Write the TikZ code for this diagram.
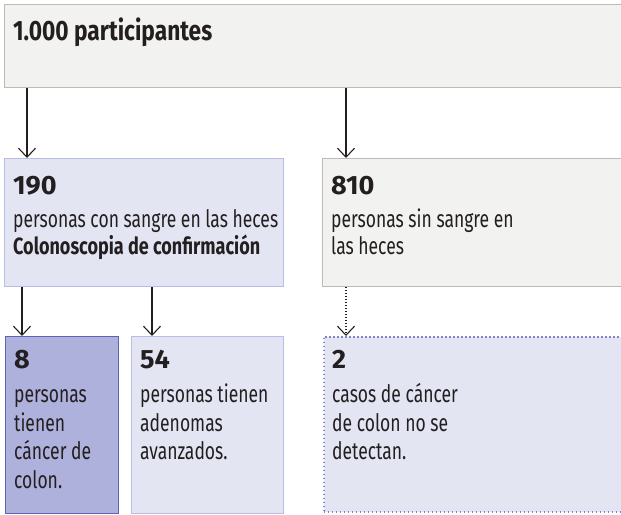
\documentclass[tikz,border=0pt]{standalone}
\usepackage{fontspec}
\setmainfont{Fira Sans}
\usetikzlibrary{arrows.meta}
\definecolor{ink}{HTML}{231F20}
\definecolor{grayfill}{HTML}{F2F2F0}
\definecolor{grayline}{HTML}{BDB9B3}
\definecolor{lavfill}{HTML}{E3E5F3}
\definecolor{lavline}{HTML}{B8BDE7}
\definecolor{darkfill}{HTML}{ADB1DB}
\definecolor{darkline}{HTML}{5A63B5}
\definecolor{dotline}{HTML}{7C83CB}
\newlength\mywd
\tikzset{
  box/.style={rectangle, draw, line width=1pt, inner sep=0pt, anchor=north west},
  graybox/.style={box, fill=grayfill, draw=grayline},
  lavbox/.style={box, fill=lavfill, draw=lavline},
  darkbox/.style={box, fill=darkfill, draw=darkline},
  dotbox/.style={box, fill=lavfill, draw=dotline, line width=1.6pt, dash pattern=on 1.6pt off 2.4pt},
  txt/.style={anchor=base west, inner sep=0pt, text=ink},
  arr/.style={draw=ink, line width=1.1pt, -{Straight Barb[length=9pt,width=17pt,line width=1.1pt]}},
  dotarr/.style={arr, dash pattern=on 1.3pt off 1.7pt},
}
\newcommand\regf{\fontsize{24}{28}\selectfont}
\newcommand\boldf{\fontsize{23.5}{28}\bfseries\selectfont}
\newcommand\numf{\fontsize{26.5}{28}\bfseries\selectfont}
\newcommand\titf{\fontsize{28}{32}\bfseries\selectfont}
\begin{document}
\settowidth\mywd{\regf personas con sangre en las heces}
\pgfmathsetmacro\sxreg{265/\the\mywd}
\settowidth\mywd{\boldf Colonoscopia de confirmación}
\pgfmathsetmacro\sxbold{247/\the\mywd}
\settowidth\mywd{\numf 190}
\pgfmathsetmacro\sxnum{43.5/\the\mywd}
\settowidth\mywd{\titf 1.000 participantes}
\pgfmathsetmacro\sxtit{199/\the\mywd}
\newcommand\R[1]{\scalebox{\sxreg}[1]{\regf #1}}
\newcommand\B[1]{\scalebox{\sxbold}[1]{\boldf #1}}
\newcommand\N[1]{\scalebox{\sxnum}[1]{\numf #1}}
\newcommand\T[1]{\scalebox{\sxtit}[1]{\titf #1}}
\begin{tikzpicture}[x=1pt,y=1pt]
\useasboundingbox (0,0) rectangle (621,-514);
\clip (0,0) rectangle (621,-514);
% boxes
\node[graybox, minimum width=640pt, minimum height=83pt] (top) at (4,-4) {};
\node[lavbox, minimum width=279pt, minimum height=128pt] (b190) at (4,-158) {};
\node[graybox, minimum width=320pt, minimum height=128pt] (b810) at (322,-158) {};
\node[darkbox, minimum width=113pt, minimum height=177pt] (b8) at (5,-336) {};
\node[lavbox, minimum width=152pt, minimum height=177pt] (b54) at (131,-336) {};
\node[dotbox, minimum width=320pt, minimum height=175pt] (b2) at (323,-336) {};
% arrows
\draw[arr] ([xshift=23pt]top.south west) -- ([xshift=23pt]b190.north west);
\draw[arr] ([xshift=342pt]top.south west) -- ([xshift=24pt]b810.north west);
\draw[arr] ([xshift=18pt]b190.south west) -- ([xshift=17pt]b8.north west);
\draw[arr] ([xshift=148pt]b190.south west) -- ([xshift=21pt]b54.north west);
\draw[dotarr] ([xshift=24pt]b810.south west) -- ([xshift=23pt]b2.north west);
% texts
\node[txt] (ttop) at (13,-40) {\T{1.000 participantes}};
\node[txt] (t190n) at (13,-194) {\N{190}};
\node[txt] (t190a) at (13,-227) {\R{personas con sangre en las heces}};
\node[txt] (t190b) at (13,-254) {\B{Colonoscopia de confirmación}};
\node[txt] (t810n) at (331,-194) {\N{810}};
\node[txt] (t810a) at (331,-227) {\R{personas sin sangre en}};
\node[txt] (t810b) at (331,-254) {\R{las heces}};
\node[txt] (t8n) at (14,-368) {\N{8}};
\node[txt] (t8a) at (14,-402) {\R{personas}};
\node[txt] (t8b) at (14,-431) {\R{tienen}};
\node[txt] (t8c) at (14,-459) {\R{cáncer de}};
\node[txt] (t8d) at (14,-488) {\R{colon.}};
\node[txt] (t54n) at (140,-368) {\N{54}};
\node[txt] (t54a) at (140,-402) {\R{personas tienen}};
\node[txt] (t54b) at (140,-431) {\R{adenomas}};
\node[txt] (t54c) at (140,-459) {\R{avanzados.}};
\node[txt] (t2n) at (332,-368) {\N{2}};
\node[txt] (t2a) at (332,-402) {\R{casos de cáncer}};
\node[txt] (t2b) at (332,-431) {\R{de colon no se}};
\node[txt] (t2c) at (332,-459) {\R{detectan.}};
\end{tikzpicture}
\end{document}
